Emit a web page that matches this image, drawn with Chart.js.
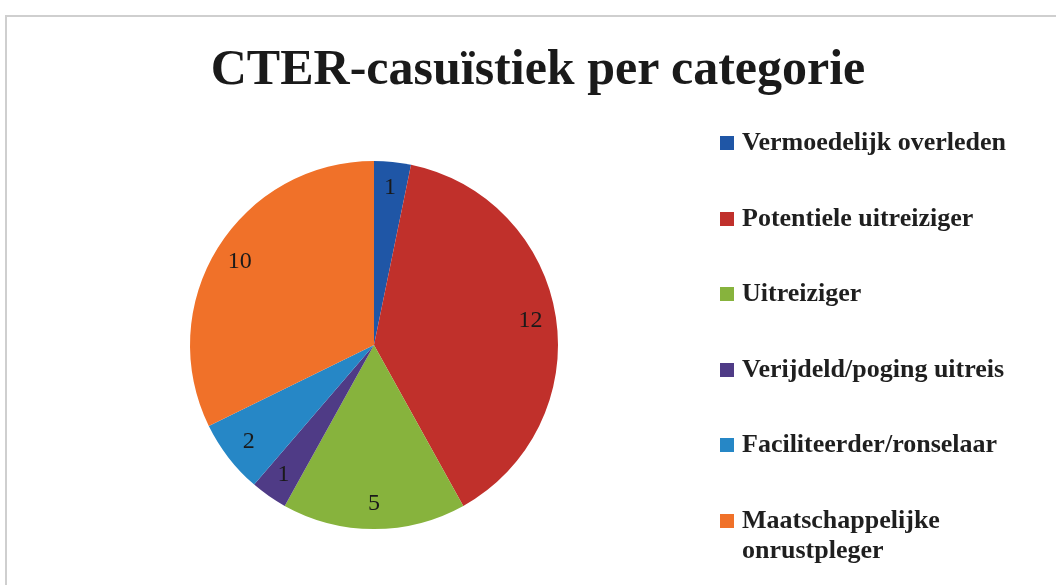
<!DOCTYPE html>
<html>
<head>
<meta charset="utf-8">
<script src="https://cdn.jsdelivr.net/npm/chart.js@4/dist/chart.umd.min.js"></script>
<style>
  body { margin: 0; background: #fff; }
  #wrap { position: relative; width: 1056px; height: 585px; overflow: hidden; }
  #frame { position: absolute; left: 5px; top: 15px; width: 1100px; height: 600px; border: 2px solid #cfcfcf; box-sizing: border-box; }
  #title { position: absolute; left: 0; width: 1076px; top: 38px; text-align: center;
    font-family: "Liberation Serif", serif; font-weight: bold; font-size: 50px; color: #1a1a1a; }
  #myChart { position: absolute; left: 0; top: 0; }
  #legend { position: absolute; left: 720px; top: 127px; font-family: "Liberation Serif", serif; font-weight: bold; font-size: 26px; color: #1f1f1f; }
  .item { position: relative; padding-left: 22px; line-height: 30px; }
  .box { position: absolute; left: 0; top: 9px; width: 14px; height: 14px; }
</style>
</head>
<body>
<div id="wrap">
  <div id="frame"></div>
  <div id="title">CTER-casuïstiek per categorie</div>
  <canvas id="myChart" width="1056" height="585"></canvas>
  <div id="legend"></div>
</div>
<script>
var categories = ["Vermoedelijk overleden", "Potentiele uitreiziger", "Uitreiziger", "Verijdeld/poging uitreis", "Faciliteerder/ronselaar", "Maatschappelijke onrustpleger"]
var values = [1, 12, 5, 1, 2, 10]
var colors = ["#1f56a6", "#c0302b", "#87b33d", "#4f3b86", "#2687c6", "#f07129"]

var labelPlugin = {
	id: "sliceLabels",
	afterDatasetsDraw: function(chart){
		var ctx = chart.ctx
		var meta = chart.getDatasetMeta(0)
		ctx.save()
		ctx.font = "24px 'Liberation Serif', serif"
		ctx.fillStyle = "#1a1a1a"
		ctx.textAlign = "center"
		ctx.textBaseline = "middle"
		meta.data.forEach(function(arc, i){
			var p = arc.getProps(["x", "y", "startAngle", "endAngle", "outerRadius"], true)
			var a = (p.startAngle + p.endAngle) / 2
			var r = p.outerRadius * 0.86
			ctx.fillText(values[i], p.x + Math.cos(a) * r, p.y + Math.sin(a) * r)
		})
		ctx.restore()
	}
}

var ctx = document.getElementById("myChart").getContext("2d")
var chart = new Chart(ctx, {
	type: "pie",
	data: {
		labels: categories,
		datasets: [{
			data: values,
			backgroundColor: colors,
			borderWidth: 0
		}]
	},
	options: {
		responsive: false,
		animation: false,
		layout: { padding: { left: 190, right: 498, top: 158, bottom: 53 } },
		plugins: { legend: { display: false }, tooltip: { enabled: false } }
	},
	plugins: [labelPlugin]
})

var txt = ""
var gaps = [0, 45.5, 45.5, 45.5, 45.5, 45.5]
for (var i = 0; i < categories.length; i++) {
	var label = categories[i] == "Maatschappelijke onrustpleger" ? "Maatschappelijke<br>onrustpleger" : categories[i]
	txt += "<div class='item' style='margin-top:" + gaps[i] + "px'><span class='box' style='background:" + colors[i] + "'></span>" + label + "</div>"
}
document.getElementById("legend").innerHTML = txt
</script>
</body>
</html>
